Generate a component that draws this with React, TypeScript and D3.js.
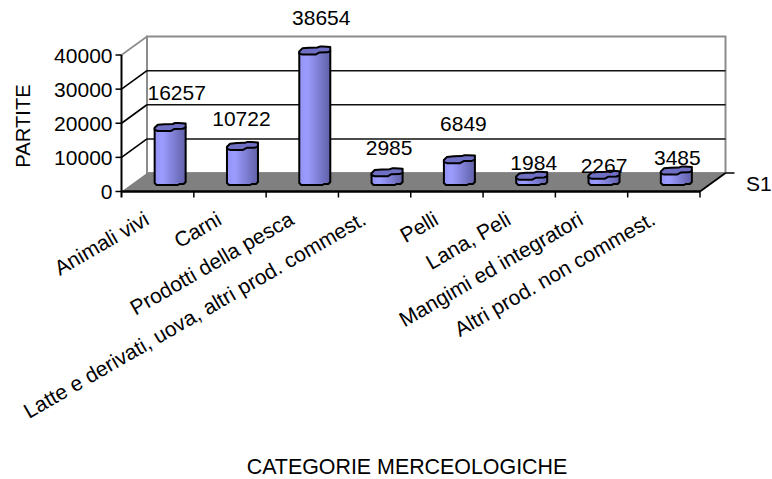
import React from "react";
import * as d3 from "d3";

const categories = [
  "Animali vivi",
  "Carni",
  "Prodotti della pesca",
  "Latte e derivati, uova, altri prod. commest.",
  "Pelli",
  "Lana, Peli",
  "Mangimi ed integratori",
  "Altri prod. non commest.",
];
const partite = [16257, 10722, 38654, 2985, 6849, 1984, 2267, 3485];
const yTicks = [0, 10000, 20000, 30000, 40000];

// Value labels sit at uneven distances from each column, as the 3-D renderer leaves them.
const labelRise = [37, 30, 36, 27, 38, 16, 11.5, 16];
const labelShift = [6.5, -1, 6.5, 2, 4, 2, 0, 1];

// Cap outline of a column, in fractions of its width and depth, with its small ripple.
const capOutline: [number, number][] = [
  [0, 0.6], [0.1, 0.22], [0.32, 0.14], [0.58, 0.12], [0.66, 0], [0.76, 0], [1, 0.06], [1, 0.56],
  [0.9, 0.72], [0.64, 0.74], [0.52, 1], [0.1, 1], [0, 0.86],
];

const font = "'Liberation Sans', Arial, sans-serif";
const fs = 21;
const dx = 25.5;
const dy = 18.5;
const x0 = 121.5;
const x1 = 700;
const yBase = 191.5;
const yTop = 55;
const columnFloor = 185;
const barW = 31;
const capDepth = 8;

const x = d3.scaleBand<string>().domain(categories).range([x0, x1]);
const y = d3.scaleLinear().domain([0, 40000]).range([yBase, yTop]);
const columnHeight = (v: number) => yBase - y(v);
const columnCenter = (c: string) => x(c)! + x.bandwidth() / 2 + 12.5;

const outline = d3.line<[number, number]>().curve(d3.curveLinearClosed);

export default function App() {
  return (
    <svg
      width={772}
      height={479}
      style={{ position: "absolute", left: 0, top: 0, background: "#fff" }}
      fontFamily={font}
      fontSize={fs}
      fill="#000"
    >
      <defs>
        <linearGradient id="columnShade" x1="0" x2="1" y1="0" y2="0">
          <stop offset="0" stopColor="#9393f5" />
          <stop offset="0.25" stopColor="#9c9cff" />
          <stop offset="1" stopColor="#6060a8" />
        </linearGradient>
      </defs>

      {/* back wall */}
      <path
        d={outline([[x0 + dx, yBase - dy], [x0 + dx, yTop - dy], [x1 + dx, yTop - dy], [x1 + dx, yBase - dy]]) ?? ""}
        fill="#fff"
        stroke="#8c8c8c"
        strokeWidth={2}
      />
      {yTicks.slice(1, -1).map((t) => (
        <line key={t} x1={x0 + dx} x2={x1 + dx} y1={y(t) - dy} y2={y(t) - dy} stroke="#111" strokeWidth={1.5} />
      ))}

      {/* floor */}
      <path
        d={outline([[x0, yBase], [x0 + dx, yBase - dy], [x1 + dx, yBase - dy], [x1, yBase]]) ?? ""}
        fill="#808080"
      />

      {/* side wall edges */}
      {yTicks.slice(1).map((t) => (
        <line
          key={t}
          x1={x0}
          x2={x0 + dx}
          y1={y(t)}
          y2={y(t) - dy}
          stroke={t === 40000 ? "#8c8c8c" : "#000"}
          strokeWidth={1.6}
        />
      ))}
      <line x1={x1} x2={x1 + dx} y1={yBase} y2={yBase - dy} stroke="#000" strokeWidth={1.8} />
      <line x1={x1 + dx} x2={x1 + dx + 9} y1={yBase - dy} y2={yBase - dy} stroke="#000" strokeWidth={1.5} />

      {/* value axis */}
      <line x1={x0} x2={x0} y1={yTop} y2={yBase + 6} stroke="#000" strokeWidth={2} />
      {yTicks.map((t) => (
        <g key={t}>
          <line x1={x0 - 6} x2={x0} y1={y(t)} y2={y(t)} stroke="#000" strokeWidth={1.5} />
          <text x={x0 - 9} y={y(t)} textAnchor="end" dominantBaseline="central">{t}</text>
        </g>
      ))}

      {/* category axis */}
      <line x1={x0} x2={x1} y1={yBase} y2={yBase} stroke="#000" strokeWidth={2.4} />
      {categories.map((c) => (
        <line
          key={c}
          x1={x(c)! + x.bandwidth()}
          x2={x(c)! + x.bandwidth()}
          y1={yBase}
          y2={yBase + 6}
          stroke="#000"
          strokeWidth={1.5}
        />
      ))}

      {/* columns */}
      {categories.map((c, i) => {
        const left = columnCenter(c) - barW / 2;
        const topY = columnFloor - columnHeight(partite[i]);
        const cap = capOutline.map(([u, v]): [number, number] => [left + u * barW, topY - 6.5 + v * capDepth]);
        return (
          <g key={c} stroke="#000" strokeWidth={2} strokeLinejoin="round">
            <path
              d={`M${left},${topY - 1}V${columnFloor - 2}L${left + 2},${columnFloor}H${left + barW * 0.75}L${left + barW * 0.8},${columnFloor - 1}H${left + barW - 2}L${left + barW},${columnFloor - 3}V${topY - 2}Z`}
              fill="url(#columnShade)"
            />
            <path d={outline(cap) ?? ""} fill="#6f6fc4" />
          </g>
        );
      })}

      {/* value labels */}
      {categories.map((c, i) => (
        <text
          key={c}
          x={columnCenter(c) + labelShift[i]}
          y={columnFloor - columnHeight(partite[i]) - labelRise[i]}
          textAnchor="middle"
          dominantBaseline="central"
        >
          {partite[i]}
        </text>
      ))}

      {/* category labels */}
      {categories.map((c) => (
        <text
          key={c}
          transform={`translate(${x(c)! + x.bandwidth() / 2 - 7},${yBase + 32}) rotate(-30)`}
          textAnchor="end"
        >
          {c}
        </text>
      ))}

      <text x={746} y={183} dominantBaseline="central">S1</text>
      <text transform="translate(23,126) rotate(-90)" textAnchor="middle" dominantBaseline="central" fontSize={20.2}>PARTITE</text>
      <text x={407} y={467} textAnchor="middle" dominantBaseline="central" fontSize={21.4}>CATEGORIE MERCEOLOGICHE</text>
    </svg>
  );
}
